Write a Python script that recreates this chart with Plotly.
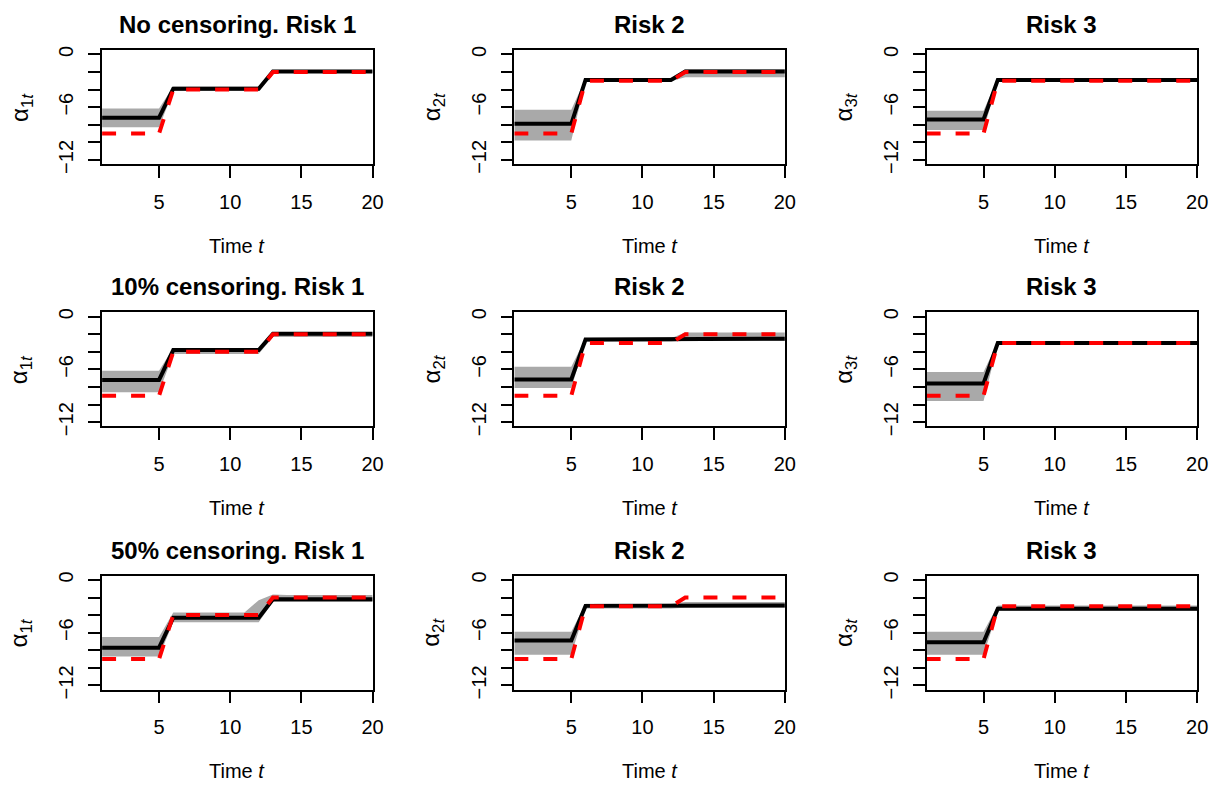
import plotly.graph_objects as go

W, H = 1223, 792

t = [1, 2, 3, 4, 5, 6, 7, 8, 9, 10, 11, 12, 13, 14, 15, 16, 17, 18, 19, 20]

panel_titles = ["No censoring. Risk 1", "Risk 2", "Risk 3",
                "10% censoring. Risk 1", "Risk 2", "Risk 3",
                "50% censoring. Risk 1", "Risk 2", "Risk 3"]
ylabels = ["α<sub>1<i>t</i></sub>", "α<sub>2<i>t</i></sub>", "α<sub>3<i>t</i></sub>"]
x_ticks = [5, 10, 15, 20]
y_ticks = [-12, -6, 0]
y_ticktext = ["−12", "−6", "0"]
y_minor_ticks = [-10, -8, -4, -2]

# true values (red dashed)
truth_1 = [-9, -9, -9, -9, -9, -4, -4, -4, -4, -4, -4, -4, -2, -2, -2, -2, -2, -2, -2, -2]
truth_2 = [-9, -9, -9, -9, -9, -3, -3, -3, -3, -3, -3, -3, -2, -2, -2, -2, -2, -2, -2, -2]
truth_3 = [-9, -9, -9, -9, -9, -3, -3, -3, -3, -3, -3, -3, -3, -3, -3, -3, -3, -3, -3, -3]

# No censoring
est_nc_1 = [-7.2, -7.2, -7.2, -7.2, -7.2, -3.9, -3.9, -3.9, -3.9, -3.9, -3.9, -3.9, -1.95, -1.95, -1.95, -1.95, -1.95, -1.95, -1.95, -1.95]
lo_nc_1 = [-8.3, -8.3, -8.3, -8.3, -8.3, -4.15, -4.15, -4.15, -4.15, -4.15, -4.15, -4.15, -2.1, -2.1, -2.1, -2.1, -2.1, -2.1, -2.1, -2.1]
hi_nc_1 = [-6.15, -6.15, -6.15, -6.15, -6.15, -3.65, -3.65, -3.65, -3.65, -3.65, -3.65, -3.65, -1.8, -1.8, -1.8, -1.8, -1.8, -1.8, -1.8, -1.8]

est_nc_2 = [-7.9, -7.9, -7.9, -7.9, -7.9, -2.9, -2.9, -2.9, -2.9, -2.9, -2.9, -2.9, -1.95, -1.95, -1.95, -1.95, -1.95, -1.95, -1.95, -1.95]
lo_nc_2 = [-9.8, -9.8, -9.8, -9.8, -9.8, -3.05, -3.05, -3.05, -3.05, -3.05, -3.05, -3.05, -2.6, -2.6, -2.6, -2.6, -2.6, -2.6, -2.6, -2.6]
hi_nc_2 = [-6.3, -6.3, -6.3, -6.3, -6.3, -2.75, -2.75, -2.75, -2.75, -2.75, -2.75, -2.75, -1.7, -1.7, -1.7, -1.7, -1.7, -1.7, -1.7, -1.7]

est_nc_3 = [-7.4, -7.4, -7.4, -7.4, -7.4, -2.9, -2.9, -2.9, -2.9, -2.9, -2.9, -2.9, -2.9, -2.9, -2.9, -2.9, -2.9, -2.9, -2.9, -2.9]
lo_nc_3 = [-8.6, -8.6, -8.6, -8.6, -8.6, -3.05, -3.05, -3.05, -3.05, -3.05, -3.05, -3.05, -3.05, -3.05, -3.05, -3.05, -3.05, -3.05, -3.05, -3.05]
hi_nc_3 = [-6.4, -6.4, -6.4, -6.4, -6.4, -2.75, -2.75, -2.75, -2.75, -2.75, -2.75, -2.75, -2.75, -2.75, -2.75, -2.75, -2.75, -2.75, -2.75, -2.75]

# 10% censoring
est_c10_1 = [-7.2, -7.2, -7.2, -7.2, -7.2, -3.8, -3.8, -3.8, -3.8, -3.8, -3.8, -3.8, -1.95, -1.95, -1.95, -1.95, -1.95, -1.95, -1.95, -1.95]
lo_c10_1 = [-8.6, -8.6, -8.6, -8.6, -8.6, -4.25, -4.25, -4.25, -4.25, -4.25, -4.25, -4.25, -2.3, -2.3, -2.3, -2.3, -2.3, -2.3, -2.3, -2.3]
hi_c10_1 = [-6.15, -6.15, -6.15, -6.15, -6.15, -3.55, -3.55, -3.55, -3.55, -3.55, -3.55, -3.55, -1.75, -1.75, -1.75, -1.75, -1.75, -1.75, -1.75, -1.75]

est_c10_2 = [-7.15, -7.15, -7.15, -7.15, -7.15, -2.6, -2.6, -2.6, -2.6, -2.6, -2.6, -2.6, -2.5, -2.5, -2.5, -2.5, -2.5, -2.5, -2.5, -2.5]
lo_c10_2 = [-8.1, -8.1, -8.1, -8.1, -8.1, -2.85, -2.85, -2.85, -2.85, -2.85, -2.85, -2.85, -2.75, -2.75, -2.75, -2.75, -2.75, -2.75, -2.75, -2.75]
hi_c10_2 = [-5.7, -5.7, -5.7, -5.7, -5.7, -2.45, -2.45, -2.45, -2.45, -2.45, -2.45, -2.45, -1.8, -1.8, -1.8, -1.8, -1.8, -1.8, -1.8, -1.8]

est_c10_3 = [-7.6, -7.6, -7.6, -7.6, -7.6, -3.0, -3.0, -3.0, -3.0, -3.0, -3.0, -3.0, -3.0, -3.0, -3.0, -3.0, -3.0, -3.0, -3.0, -3.0]
lo_c10_3 = [-9.6, -9.6, -9.6, -9.6, -9.6, -3.15, -3.15, -3.15, -3.15, -3.15, -3.15, -3.15, -3.15, -3.15, -3.15, -3.15, -3.15, -3.15, -3.15, -3.15]
hi_c10_3 = [-6.3, -6.3, -6.3, -6.3, -6.3, -2.85, -2.85, -2.85, -2.85, -2.85, -2.85, -2.85, -2.85, -2.85, -2.85, -2.85, -2.85, -2.85, -2.85, -2.85]

# 50% censoring
est_c50_1 = [-7.7, -7.7, -7.7, -7.7, -7.7, -4.3, -4.3, -4.3, -4.3, -4.3, -4.3, -4.3, -2.2, -2.2, -2.2, -2.2, -2.2, -2.2, -2.2, -2.2]
lo_c50_1 = [-8.7, -8.7, -8.7, -8.7, -8.7, -4.8, -4.8, -4.8, -4.8, -4.8, -4.8, -4.8, -2.5, -2.5, -2.5, -2.5, -2.5, -2.5, -2.5, -2.5]
hi_c50_1 = [-6.5, -6.5, -6.5, -6.5, -6.5, -3.7, -3.7, -3.7, -3.7, -3.7, -3.7, -2.3, -1.65, -1.7, -1.7, -1.7, -1.7, -1.7, -1.7, -1.7]

est_c50_2 = [-6.9, -6.9, -6.9, -6.9, -6.9, -2.95, -2.95, -2.95, -2.95, -2.95, -2.95, -2.95, -2.9, -2.9, -2.9, -2.9, -2.9, -2.9, -2.9, -2.9]
lo_c50_2 = [-8.5, -8.5, -8.5, -8.5, -8.5, -3.25, -3.25, -3.25, -3.25, -3.25, -3.25, -3.25, -3.15, -3.15, -3.15, -3.15, -3.15, -3.15, -3.15, -3.15]
hi_c50_2 = [-5.9, -5.9, -5.9, -5.9, -5.9, -2.7, -2.7, -2.7, -2.7, -2.7, -2.7, -2.7, -2.5, -2.5, -2.5, -2.5, -2.5, -2.5, -2.5, -2.5]

est_c50_3 = [-7.1, -7.1, -7.1, -7.1, -7.1, -3.27, -3.27, -3.27, -3.27, -3.27, -3.27, -3.27, -3.27, -3.27, -3.27, -3.27, -3.27, -3.27, -3.27, -3.27]
lo_c50_3 = [-8.5, -8.5, -8.5, -8.5, -8.5, -3.5, -3.5, -3.5, -3.5, -3.5, -3.5, -3.5, -3.5, -3.5, -3.5, -3.5, -3.5, -3.5, -3.5, -3.5]
hi_c50_3 = [-5.9, -5.9, -5.9, -5.9, -5.9, -2.9, -2.9, -2.9, -2.9, -2.9, -2.9, -2.9, -2.9, -2.9, -2.9, -2.9, -2.9, -2.9, -2.9, -2.9]

panels = [
    (est_nc_1, lo_nc_1, hi_nc_1, truth_1),
    (est_nc_2, lo_nc_2, hi_nc_2, truth_2),
    (est_nc_3, lo_nc_3, hi_nc_3, truth_3),
    (est_c10_1, lo_c10_1, hi_c10_1, truth_1),
    (est_c10_2, lo_c10_2, hi_c10_2, truth_2),
    (est_c10_3, lo_c10_3, hi_c10_3, truth_3),
    (est_c50_1, lo_c50_1, hi_c50_1, truth_1),
    (est_c50_2, lo_c50_2, hi_c50_2, truth_2),
    (est_c50_3, lo_c50_3, hi_c50_3, truth_3),
]

# layout geometry (page pixels)
col_left = [103, 519, 935]
box_w = 273
row_top = [47, 314, 582]
box_h = 116


def px(xp):
    return xp / W


def py(yp):
    return 1 - yp / H


FONT = "Liberation Sans, Arial, sans-serif"
fig = go.Figure()
annotations = []
layout = {}

for i, (est, lo, hi, tru) in enumerate(panels):
    r, c = divmod(i, 3)
    k = "" if i == 0 else str(i + 1)
    xa, ya = "x" + k, "y" + k
    fig.add_trace(go.Scatter(x=t + t[::-1], y=hi + lo[::-1], fill="toself",
                             fillcolor="#A9A9A9", line=dict(width=0), mode="lines",
                             hoverinfo="skip", showlegend=False, xaxis=xa, yaxis=ya))
    fig.add_trace(go.Scatter(x=t, y=est, mode="lines", line=dict(color="black", width=4),
                             showlegend=False, xaxis=xa, yaxis=ya))
    fig.add_trace(go.Scatter(x=t, y=tru, mode="lines",
                             line=dict(color="#FF0000", width=4, dash="14px,15px"),
                             showlegend=False, xaxis=xa, yaxis=ya))
    layout["xaxis" + k] = dict(domain=[px(col_left[c]), px(col_left[c] + box_w)], anchor=ya,
                               range=[1, 20], tickvals=x_ticks, ticks="outside", ticklen=12,
                               tickwidth=1.5, tickcolor="black", showline=True,
                               linecolor="black", linewidth=1.5, mirror=True, showgrid=False,
                               zeroline=False, ticklabelstandoff=7,
                               tickfont=dict(family=FONT, size=20, color="black"))
    layout["yaxis" + k] = dict(domain=[py(row_top[r] + box_h), py(row_top[r])], anchor=xa,
                               range=[-12.48, 0.48], tickvals=y_ticks, ticktext=y_ticktext,
                               tickangle=-90, ticks="outside", ticklen=12, tickwidth=1.5,
                               tickcolor="black", showline=True, linecolor="black",
                               linewidth=1.5, mirror=True, showgrid=False, zeroline=False,
                               ticklabelstandoff=7,
                               minor=dict(tickvals=y_minor_ticks, ticks="outside", ticklen=12,
                                          tickwidth=1.5, tickcolor="black", showgrid=False),
                               tickfont=dict(family=FONT, size=20, color="black"))
    cx = px(col_left[c] + box_w / 2)
    annotations.append(dict(text="<b>" + panel_titles[i] + "</b>", x=cx,
                            y=py(row_top[r] - 26), xref="paper", yref="paper",
                            xanchor="center", yanchor="middle", showarrow=False,
                            font=dict(family=FONT, size=24, color="black")))
    annotations.append(dict(text="Time <i>t</i>", x=cx, y=py(row_top[r] + 199),
                            xref="paper", yref="paper", xanchor="center", yanchor="middle",
                            showarrow=False, font=dict(family=FONT, size=20, color="black")))
    annotations.append(dict(text=ylabels[c], x=px(col_left[c] - 82),
                            y=py(row_top[r] + box_h / 2), xref="paper", yref="paper",
                            xanchor="center", yanchor="middle", textangle=-90, showarrow=False,
                            font=dict(family=FONT, size=24, color="black")))

fig.update_layout(width=W, height=H, margin=dict(l=0, r=0, t=0, b=0),
                  paper_bgcolor="white", plot_bgcolor="white", hovermode=False,
                  annotations=annotations, showlegend=False, **layout)
fig.write_html("out.html", config={"displayModeBar": False},
               post_script="document.body.style.margin='0px';")
